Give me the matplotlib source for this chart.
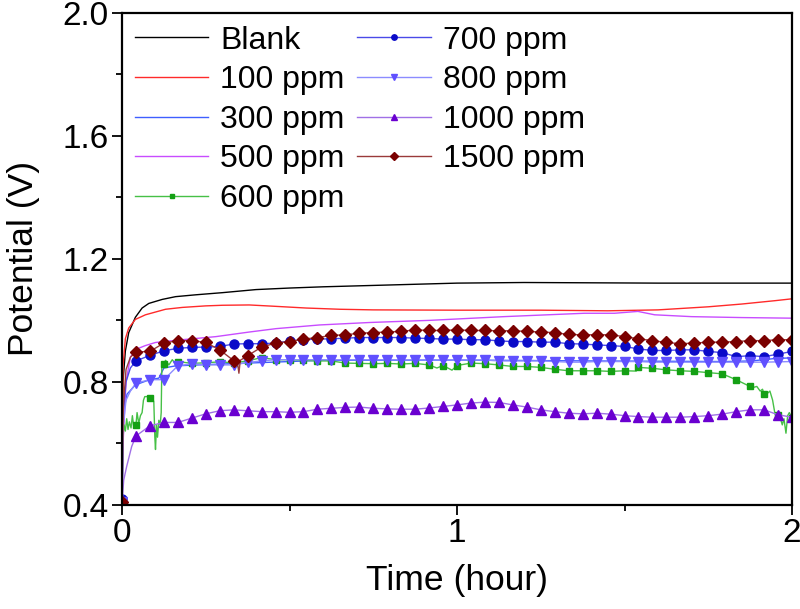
import numpy as np
import matplotlib
matplotlib.use('Agg')
import matplotlib.pyplot as plt

plt.rcParams['font.family'] = ['Liberation Sans', 'DejaVu Sans']

# ---- data (time in hour, potential in V) ----
# series without markers
t_blank = [0, 0.003, 0.01, 0.02, 0.04, 0.06, 0.08, 0.12, 0.16, 0.22, 0.3, 0.4, 0.5,
           0.6, 0.7, 0.8, 0.9, 1.0, 1.2, 1.4, 1.6, 1.8, 2.0]
v_blank = [0.40, 0.80, 0.90, 0.96, 1.01, 1.04, 1.055, 1.068, 1.077, 1.083, 1.09, 1.10, 1.105,
           1.109, 1.112, 1.115, 1.118, 1.121, 1.123, 1.122, 1.121, 1.121, 1.121]

t_100 = [0, 0.003, 0.01, 0.02, 0.04, 0.07, 0.1, 0.13, 0.18, 0.25, 0.3, 0.38, 0.45, 0.55,
         0.65, 0.75, 1.0, 1.25, 1.45, 1.6, 1.75, 1.85, 1.95, 2.0]
v_100 = [0.45, 0.85, 0.94, 0.975, 1.003, 1.018, 1.027, 1.036, 1.042, 1.047, 1.049, 1.05, 1.046, 1.04,
         1.036, 1.034, 1.033, 1.033, 1.031, 1.034, 1.044, 1.053, 1.064, 1.07]

t_300 = [0, 0.004, 0.015, 0.04, 0.08, 0.11, 0.125, 0.16, 0.25, 0.4, 0.6, 1.0, 1.4, 1.8,
         1.88, 1.95, 2.0]
v_300 = [0.40, 0.70, 0.76, 0.79, 0.806, 0.812, 0.845, 0.852, 0.856, 0.862, 0.870, 0.871, 0.868, 0.866,
         0.868, 0.876, 0.878]

t_500 = [0, 0.004, 0.012, 0.025, 0.04, 0.07, 0.1, 0.18, 0.28, 0.38, 0.46, 0.59, 0.74, 0.92,
         1.14, 1.38, 1.47, 1.54, 1.59, 1.7, 1.85, 2.0]
v_500 = [0.40, 0.62, 0.80, 0.88, 0.905, 0.918, 0.928, 0.937, 0.947, 0.962, 0.973, 0.985, 0.993, 1.0,
         1.012, 1.023, 1.023, 1.029, 1.018, 1.012, 1.009, 1.007]

# series with markers: one value every 2.5 min (k/24 h, k = 0..48) + extra line points
t_grid = np.arange(49) / 24

v_600 = [0.42, 0.660, 0.747, 0.858, 0.866, 0.860, 0.862, 0.865, 0.862, 0.868, 0.879, 0.872, 0.872,
         0.870, 0.868, 0.868, 0.861, 0.860, 0.859, 0.860, 0.858, 0.860, 0.855, 0.853, 0.853,
         0.861, 0.859, 0.855, 0.850, 0.850, 0.847, 0.841, 0.836, 0.836, 0.836, 0.834, 0.836,
         0.847, 0.844, 0.839, 0.836, 0.834, 0.830, 0.826, 0.807, 0.787, 0.760, 0.693, 0.682]
x600_t = [0.003, 0.006, 0.01, 0.014, 0.018, 0.022, 0.027, 0.031, 0.035, 0.045, 0.05, 0.055,
          0.06, 0.064, 0.068, 0.075, 0.09, 0.095, 0.098, 0.1, 0.103, 0.106, 0.11, 0.114, 0.117,
          0.119, 0.13, 0.14, 0.15, 0.16, 0.94, 0.985, 1.535,
          1.865, 1.885, 1.895, 1.905, 1.912, 1.924, 1.934, 1.942, 1.949, 1.956, 1.963, 1.971,
          1.976, 1.982, 1.987, 1.992]
x600_v = [0.62, 0.66, 0.64, 0.68, 0.645, 0.67, 0.65, 0.69, 0.655, 0.70, 0.665, 0.69,
          0.70, 0.74, 0.752, 0.752, 0.75, 0.735, 0.62, 0.58, 0.66, 0.62, 0.675, 0.66, 0.70,
          0.855, 0.87, 0.855, 0.872, 0.858, 0.845, 0.838, 0.835,
          0.790, 0.782, 0.785, 0.770, 0.776, 0.760, 0.770, 0.741, 0.697, 0.676, 0.690, 0.660,
          0.680, 0.633, 0.690, 0.700]

v_700 = [0.42, 0.868, 0.886, 0.901, 0.909, 0.912, 0.913, 0.915, 0.923, 0.924, 0.924, 0.926, 0.933,
         0.937, 0.939, 0.940, 0.942, 0.944, 0.944, 0.944, 0.944, 0.942, 0.941, 0.939, 0.939,
         0.937, 0.937, 0.933, 0.931, 0.931, 0.929, 0.929, 0.924, 0.923, 0.920, 0.918, 0.915,
         0.907, 0.902, 0.902, 0.904, 0.904, 0.899, 0.895, 0.882, 0.885, 0.882, 0.890, 0.899]
x700_t = [0.004, 0.012, 0.025]
x700_v = [0.70, 0.80, 0.845]

v_800 = [0.41, 0.796, 0.807, 0.807, 0.852, 0.859, 0.855, 0.855, 0.855, 0.863, 0.868, 0.872, 0.872,
         0.872, 0.872, 0.872, 0.872, 0.872, 0.872, 0.872, 0.872, 0.872, 0.872, 0.872, 0.872,
         0.872, 0.871, 0.868, 0.868, 0.868, 0.868, 0.866, 0.864, 0.864, 0.866, 0.866, 0.866,
         0.866, 0.864, 0.864, 0.864, 0.864, 0.864, 0.864, 0.864, 0.864, 0.864, 0.865, 0.866]
x800_t = [0.004, 0.012, 0.025]
x800_v = [0.66, 0.74, 0.77]

v_1000 = [0.40, 0.624, 0.657, 0.668, 0.668, 0.682, 0.696, 0.706, 0.709, 0.706, 0.703, 0.703, 0.701,
          0.703, 0.711, 0.714, 0.717, 0.718, 0.714, 0.712, 0.711, 0.711, 0.715, 0.720, 0.725,
          0.731, 0.734, 0.733, 0.725, 0.718, 0.709, 0.703, 0.698, 0.696, 0.698, 0.695, 0.690,
          0.687, 0.685, 0.685, 0.685, 0.687, 0.690, 0.695, 0.703, 0.709, 0.709, 0.693, 0.685]
x1000_t = [0.005, 0.014, 0.029]
x1000_v = [0.48, 0.525, 0.59]

v_1500 = [0.41, 0.897, 0.899, 0.926, 0.934, 0.934, 0.928, 0.904, 0.869, 0.885, 0.913, 0.926, 0.931,
          0.939, 0.944, 0.951, 0.953, 0.958, 0.960, 0.962, 0.964, 0.969, 0.967, 0.967, 0.969,
          0.967, 0.967, 0.966, 0.966, 0.964, 0.962, 0.960, 0.954, 0.953, 0.953, 0.953, 0.947,
          0.940, 0.934, 0.928, 0.924, 0.926, 0.929, 0.929, 0.931, 0.934, 0.934, 0.937, 0.937]
x1500_t = [0.004, 0.012, 0.025, 0.345, 0.349, 0.353]
x1500_v = [0.72, 0.84, 0.88, 0.86, 0.828, 0.87]


def merge(v_grid, t_extra, v_extra):
    t_all = np.concatenate([t_grid, t_extra])
    v_all = np.concatenate([v_grid, v_extra])
    order = np.argsort(t_all, kind='stable')
    marks = [i for i, o in enumerate(order) if o < len(t_grid)]
    return t_all[order], v_all[order], marks


fig, ax = plt.subplots(figsize=(8, 6.09), dpi=100)
fig.subplots_adjust(left=0.1525, right=0.99, bottom=0.171, top=0.979)

ax.plot(t_blank, v_blank, color='black', lw=1.0, label='Blank')
ax.plot(t_100, v_100, color='#ff2a2a', lw=1.0, label='100 ppm')
ax.plot(t_300, v_300, color='#3f5fff', lw=1.0, label='300 ppm')
ax.plot(t_500, v_500, color='#c84cff', lw=1.0, label='500 ppm')

marker_series = [
    ('600 ppm', v_600, x600_t, x600_v, '#46c046', '#14a014', 's', 4.5),
    ('700 ppm', v_700, x700_t, x700_v, '#4a4ae8', '#0a0ac8', 'o', 6.5),
    ('800 ppm', v_800, x800_t, x800_v, '#8c8cff', '#6050ff', 'v', 7),
    ('1000 ppm', v_1000, x1000_t, x1000_v, '#a070e6', '#6a00d0', '^', 7),
    ('1500 ppm', v_1500, x1500_t, x1500_v, '#9a3a3a', '#7a0000', 'D', 6.5),
]
for name, vg, te, ve, lc, mc, mk, ms in marker_series:
    tt, vv, marks = merge(vg, te, ve)
    ax.plot(tt, vv, color=lc, lw=1.0, marker=mk, markersize=ms, markevery=marks,
            markerfacecolor=mc, markeredgecolor=mc, label=name)

ax.set_xlim(0, 2)
ax.set_ylim(0.4, 2.0)
ax.set_xticks([0, 1, 2])
ax.set_xticks([0.5, 1.5], minor=True)
ax.set_yticks([0.4, 0.8, 1.2, 1.6, 2.0])
ax.set_yticks([0.6, 1.0, 1.4, 1.8], minor=True)
ax.set_xticklabels(['0', '1', '2'])
ax.tick_params(which='major', direction='out', length=7, width=1.3, labelsize=24, pad=2.5)
ax.tick_params(which='minor', direction='out', length=4, width=1.3)
for s in ax.spines.values():
    s.set_linewidth(1.6)

ax.set_xlabel('Time (hour)', fontsize=25.5, labelpad=11)
ax.set_ylabel('Potential (V)', fontsize=25.5, labelpad=16)

ax.legend(loc='upper left', ncol=2, frameon=False, fontsize=23, handlelength=2.3,
          handletextpad=0.37, columnspacing=0.4, labelspacing=0.3, markerscale=0.6,
          borderaxespad=0.0, bbox_to_anchor=(0.0, 1.0))

fig.savefig('out.png', dpi=100)
